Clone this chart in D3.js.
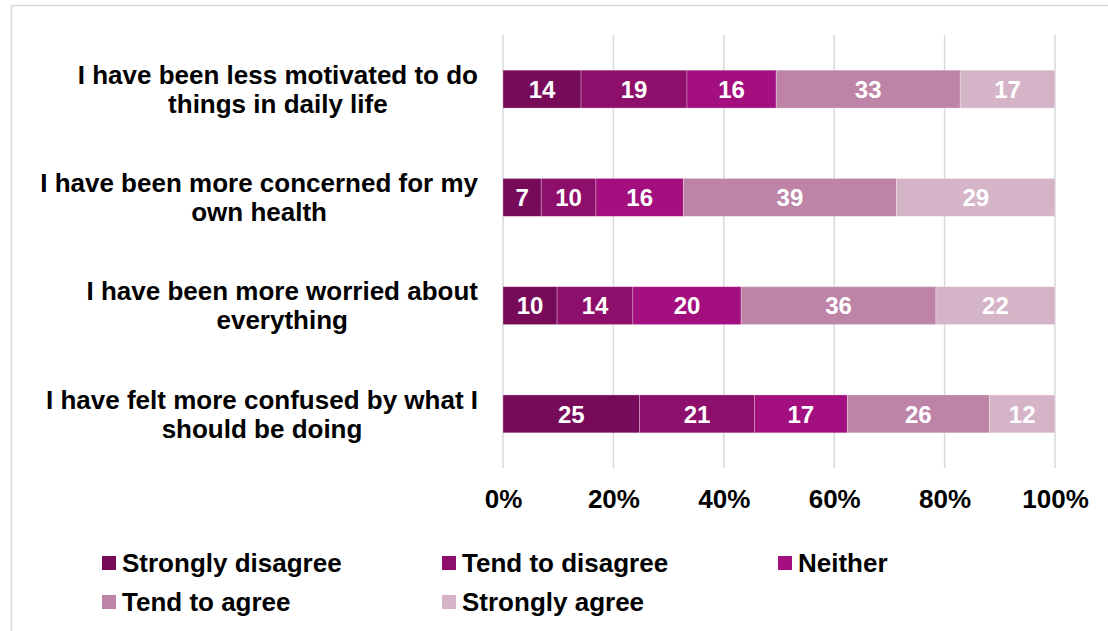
<!DOCTYPE html>
<html>
<head>
<meta charset="utf-8">
<script src="https://cdn.jsdelivr.net/npm/d3@7"></script>
<style>
  html, body { margin: 0; padding: 0; background: #fff; }
  svg { display: block; font-family: "Liberation Sans", Arial, sans-serif; }
</style>
</head>
<body>
<svg id="chart" width="1108" height="631"></svg>
<script>
// Survey statements (top to bottom)
const statements = [
  "I have been less motivated to do things in daily life",
  "I have been more concerned for my own health",
  "I have been more worried about everything",
  "I have felt more confused by what I should be doing"
];
const statementLines = [
  ["I have been less motivated to do", "things in daily life"],
  ["I have been more concerned for my", "own health"],
  ["I have been more worried about", "everything"],
  ["I have felt more confused by what I", "should be doing"]
];
// Response categories
const responses = ["Strongly disagree", "Tend to disagree", "Neither", "Tend to agree", "Strongly agree"];
// Percentages per response, one entry per statement
const stronglyDisagree = [14, 7, 10, 25];
const tendToDisagree   = [19, 10, 14, 21];
const neither          = [16, 16, 20, 17];
const tendToAgree      = [33, 39, 36, 26];
const stronglyAgree    = [17, 29, 22, 12];
const tickValues = [0, 0.2, 0.4, 0.6, 0.8, 1];

const colors = ["#780a5a", "#8e0e6c", "#a30f7e", "#be84a8", "#d5b4c8"];

const rows = statements.map((s, i) => ({
  statement: s,
  "Strongly disagree": stronglyDisagree[i],
  "Tend to disagree": tendToDisagree[i],
  "Neither": neither[i],
  "Tend to agree": tendToAgree[i],
  "Strongly agree": stronglyAgree[i]
}));

const svg = d3.select("#chart");

// outer frame
svg.append("path")
  .attr("d", "M11.5,640 V5.5 H1120")
  .attr("fill", "none")
  .attr("stroke", "#d9d9d9")
  .attr("stroke-width", 1.5);

const plot = { left: 503, right: 1055, top: 35, bottom: 468 };

const x = d3.scaleLinear().domain([0, 1]).range([plot.left, plot.right]);
const y = d3.scaleBand().domain(statements).range([plot.top, plot.bottom]).paddingInner(0.65).paddingOuter(0.325);
const color = d3.scaleOrdinal().domain(responses).range(colors);

const stacked = d3.stack().keys(responses).offset(d3.stackOffsetExpand)(rows);

// vertical gridlines
svg.append("g")
  .selectAll("line")
  .data(tickValues)
  .join("line")
  .attr("x1", d => x(d)).attr("x2", d => x(d))
  .attr("y1", plot.top).attr("y2", plot.bottom)
  .attr("stroke", "#d9d9d9")
  .attr("stroke-width", 1.5);

// bar segments
const layers = svg.append("g")
  .selectAll("g")
  .data(stacked)
  .join("g")
  .attr("fill", d => color(d.key));

layers.selectAll("rect")
  .data(d => d.map(p => ({ key: d.key, p })))
  .join("rect")
  .attr("x", d => x(d.p[0]))
  .attr("y", d => y(d.p.data.statement))
  .attr("width", d => x(d.p[1]) - x(d.p[0]))
  .attr("height", y.bandwidth())
  .attr("stroke", "rgba(255,255,255,0.35)")
  .attr("stroke-width", 0.8);

// value labels
layers.selectAll("text")
  .data(d => d.map(p => ({ key: d.key, p })))
  .join("text")
  .attr("x", d => (x(d.p[0]) + x(d.p[1])) / 2)
  .attr("y", d => y(d.p.data.statement) + y.bandwidth() / 2)
  .attr("dy", "0.36em")
  .attr("text-anchor", "middle")
  .attr("fill", "#fff")
  .attr("font-weight", "bold")
  .attr("font-size", 24)
  .text(d => d.p.data[d.key]);

// x axis tick labels
const xAxis = d3.axisBottom(x).tickValues(tickValues).tickFormat(d3.format(".0%")).tickSize(0).tickPadding(0);
const xg = svg.append("g").attr("transform", `translate(0,${plot.bottom + 22})`).call(xAxis);
xg.select(".domain").remove();
xg.selectAll("text")
  .attr("font-family", "Liberation Sans, Arial, sans-serif")
  .attr("font-size", 26)
  .attr("font-weight", "bold")
  .attr("fill", "#000");

// category labels: lines centered within a block right-aligned to the axis
const labelRight = 478;
const catG = svg.append("g");
statements.forEach((s, i) => {
  const g = catG.append("g");
  const cy = y(s) + y.bandwidth() / 2;
  const lines = statementLines[i];
  const texts = lines.map((ln, j) => g.append("text")
    .attr("y", cy + (j - (lines.length - 1) / 2) * 29)
    .attr("dy", "0.36em")
    .attr("text-anchor", "middle")
    .attr("font-size", 26)
    .attr("font-weight", "bold")
    .attr("fill", "#000")
    .text(ln));
  const maxW = d3.max(texts, t => t.node().getComputedTextLength());
  texts.forEach(t => t.attr("x", labelRight - maxW / 2));
});

// legend
const legendPos = [
  { x: 102, y: 563 }, { x: 442, y: 563 }, { x: 778, y: 563 },
  { x: 102, y: 602 }, { x: 442, y: 602 }
];
const leg = svg.append("g")
  .selectAll("g")
  .data(responses)
  .join("g")
  .attr("transform", (d, i) => `translate(${legendPos[i].x},${legendPos[i].y})`);
leg.append("rect")
  .attr("x", 0).attr("y", -7)
  .attr("width", 14).attr("height", 14)
  .attr("fill", d => color(d));
leg.append("text")
  .attr("x", 20)
  .attr("dy", "0.36em")
  .attr("font-size", 26)
  .attr("font-weight", "bold")
  .attr("fill", "#000")
  .text(d => d);
</script>
</body>
</html>
